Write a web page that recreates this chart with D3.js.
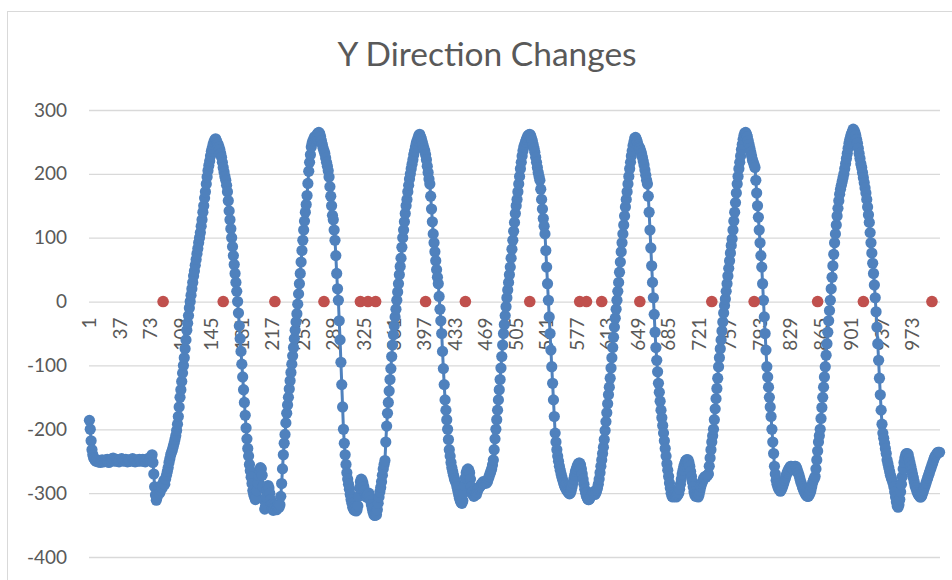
<!DOCTYPE html>
<html>
<head>
<meta charset="utf-8">
<script src="https://cdn.jsdelivr.net/npm/d3@7"></script>
<style>
    body { margin: 0; background: #fff; }
    svg { display: block; }
    text { font-family: Lato, "Open Sans", sans-serif; }
</style>
</head>
<body>
<svg id="chart" width="952" height="580"></svg>
<script>
// DATA (one value per sample)

const yChange = [
    -186, -200, -218, -232, -240, -245, -247, -249, -250, -248, -251, -249, -250, -252, -249, -248, -250, -251, -249, -250,
    -248, -247, -250, -252, -250, -249, -248, -246, -245, -248, -250, -249, -247, -248, -250, -251, -249, -248, -246, -247,
    -249, -250, -248, -247, -249, -251, -250, -248, -249, -250, -248, -246, -248, -250, -251, -249, -248, -250, -249, -247,
    -248, -250, -249, -247, -248, -250, -251, -249, -247, -246, -248, -247, -246, -243, -240, -252, -270, -290, -303, -311,
    -306, -298, -292, -300, -295, -288, -292, -285, -280, -286, -278, -272, -266, -260, -252, -246, -240, -236, -232, -227,
    -222, -216, -210, -202, -192, -180, -165, -150, -138, -125, -112, -100, -88, -74, -60, -45, -34, -22, -10, 0,
    10, 20, 30, 40, 48, 57, 66, 75, 83, 92, 100, 108, 118, 128, 140, 150, 162, 172, 184, 195,
    205, 213, 220, 228, 235, 240, 246, 250, 253, 255, 252, 248, 246, 242, 238, 232, 226, 218, 210, 203,
    196, 190, 182, 172, 158, 142, 128, 114, 100, 86, 72, 58, 44, 30, 16, 0, -18, -38, -58, -78,
    -98, -118, -138, -158, -178, -198, -215, -230, -242, -255, -265, -275, -285, -296, -302, -306, -310, -306, -296, -284,
    -272, -264, -260, -262, -272, -290, -310, -325, -320, -306, -294, -288, -292, -300, -310, -318, -324, -327, -324, -318,
    -322, -326, -322, -318, -322, -318, -305, -285, -262, -240, -222, -208, -190, -175, -162, -150, -137, -124, -111, -98,
    -85, -72, -58, -45, -32, -19, -4, 12, 28, 44, 62, 80, 96, 112, 126, 140, 152, 166, 185, 204,
    218, 230, 242, 248, 252, 255, 258, 256, 259, 262, 264, 265, 263, 258, 252, 246, 240, 236, 232, 225,
    218, 212, 205, 195, 180, 165, 150, 135, 128, 112, 96, 72, 44, 20, 2, -30, -60, -95, -130, -165,
    -200, -222, -240, -255, -268, -278, -286, -294, -302, -310, -316, -322, -325, -327, -324, -328, -326, -320, -305, -292,
    -282, -278, -280, -284, -290, -296, -302, -306, -306, -302, -300, -306, -312, -318, -324, -330, -334, -335, -332, -334,
    -326, -316, -306, -298, -291, -282, -272, -262, -255, -249, -220, -195, -175, -158, -140, -122, -105, -86, -68, -52,
    -38, -24, -12, 2, 15, 28, 42, 55, 68, 85, 100, 112, 125, 138, 150, 160, 172, 182, 192, 200,
    208, 215, 222, 230, 236, 242, 248, 252, 256, 260, 262, 258, 255, 250, 245, 240, 236, 230, 222, 212,
    202, 192, 184, 165, 145, 125, 106, 92, 78, 64, 50, 38, 28, 8, -12, -30, -50, -78, -105, -130,
    -154, -170, -185, -200, -216, -232, -242, -252, -260, -266, -272, -277, -281, -284, -290, -296, -302, -308, -312, -315,
    -316, -312, -300, -288, -276, -268, -264, -262, -264, -268, -278, -290, -298, -303, -305, -303, -300, -302, -298, -294,
    -292, -290, -288, -286, -284, -282, -285, -282, -284, -284, -282, -278, -274, -270, -266, -262, -256, -248, -232, -215,
    -200, -185, -170, -154, -138, -122, -104, -86, -68, -50, -36, -22, -8, 6, 18, 30, 42, 54, 68, 82,
    96, 110, 124, 138, 150, 160, 172, 184, 196, 208, 218, 228, 236, 242, 246, 250, 254, 257, 260, 261,
    262, 260, 256, 252, 246, 240, 234, 226, 218, 210, 202, 196, 190, 176, 160, 145, 130, 118, 106, 80,
    54, 28, 2, -24, -50, -76, -102, -128, -154, -180, -206, -220, -232, -242, -250, -258, -264, -270, -275, -280,
    -284, -288, -291, -294, -296, -298, -300, -301, -300, -296, -290, -284, -278, -272, -266, -262, -258, -255, -253, -253,
    -256, -262, -270, -278, -286, -294, -300, -305, -308, -310, -310, -308, -305, -302, -300, -298, -300, -302, -300, -296,
    -292, -286, -278, -268, -258, -248, -238, -228, -216, -202, -188, -174, -160, -146, -134, -120, -104, -88, -72, -56,
    -40, -26, -12, 2, 16, 30, 46, 62, 78, 92, 106, 120, 134, 148, 160, 172, 184, 196, 208, 218,
    228, 236, 244, 250, 256, 257, 254, 250, 245, 242, 240, 236, 232, 226, 220, 214, 206, 198, 190, 184,
    165, 140, 112, 84, 56, 30, 6, -20, -48, -72, -92, -110, -128, -142, -156, -170, -182, -194, -206, -218,
    -230, -242, -254, -264, -274, -284, -292, -300, -305, -306, -304, -302, -305, -306, -304, -302, -300, -294, -286, -278,
    -270, -264, -258, -254, -250, -248, -248, -248, -252, -258, -266, -274, -282, -290, -298, -303, -305, -304, -305, -306,
    -302, -296, -290, -285, -282, -278, -276, -274, -275, -273, -272, -270, -258, -245, -232, -220, -210, -200, -185, -168,
    -152, -136, -120, -102, -88, -74, -60, -46, -32, -18, -6, 4, 16, 28, 40, 52, 64, 76, 88, 98,
    112, 126, 140, 155, 170, 184, 196, 208, 218, 228, 238, 246, 254, 260, 264, 265, 262, 258, 252, 246,
    240, 234, 228, 222, 218, 214, 210, 190, 170, 150, 132, 112, 92, 72, 54, 28, 2, -24, -50, -76,
    -102, -118, -134, -150, -165, -180, -200, -220, -238, -258, -270, -280, -286, -290, -293, -295, -297, -295, -292, -288,
    -284, -280, -276, -272, -268, -265, -262, -260, -258, -258, -260, -262, -264, -258, -258, -260, -264, -268, -272, -277,
    -282, -286, -290, -294, -297, -300, -302, -304, -305, -305, -303, -300, -296, -290, -284, -280, -277, -274, -262, -248,
    -234, -220, -210, -200, -183, -166, -150, -134, -118, -102, -84, -66, -48, -30, -14, 2, 20, 38, 56, 74,
    92, 106, 120, 134, 146, 158, 168, 176, 182, 188, 194, 200, 208, 216, 224, 232, 240, 248, 254, 259,
    263, 266, 270, 268, 265, 260, 254, 248, 240, 232, 224, 216, 210, 202, 194, 186, 178, 170, 160, 148,
    136, 124, 108, 92, 76, 60, 44, 26, 6, -16, -40, -66, -92, -120, -146, -170, -192, -206, -214, -222,
    -230, -238, -248, -254, -260, -266, -272, -276, -280, -284, -290, -298, -306, -314, -320, -322, -318, -310, -298, -286,
    -274, -262, -252, -245, -240, -238, -238, -240, -246, -252, -258, -264, -270, -276, -282, -288, -292, -296, -300, -302,
    -304, -306, -306, -304, -300, -296, -292, -288, -284, -280, -276, -272, -268, -264, -260, -256, -252, -248, -244, -242,
    -240, -238, -236, -236, -236
];

// samples where the direction flips (plotted at 0)
const changeIdx = [88, 159, 220, 278, 321, 330, 339, 398, 445, 521, 580, 588, 606, 651, 736, 786, 861, 915, 996];

const xTickLabels = [1, 37, 73, 109, 145, 181, 217, 253, 289, 325, 361, 397, 433, 469,
    505, 541, 577, 613, 649, 685, 721, 757, 793, 829, 865, 901, 937, 973];
const yTickValues = [300, 200, 100, 0, -100, -200, -300, -400];


// SVG, SCALES AND AXES

const svg = d3.select('#chart');
const plot = { left: 89, right: 940, top: 110, bottom: 557 };
const gridColor = '#d9d9d9';
const textColor = '#595959';

// chart frame (runs off the right/bottom of the picture)
svg.append('rect')
    .attr('x', 7.5).attr('y', 11.5)
    .attr('width', 1000).attr('height', 640)
    .attr('fill', '#fff')
    .attr('stroke', gridColor);

const categories = yChange.map((d, i) => i + 1);

const x = d3.scaleBand()
    .domain(categories)
    .range([plot.left, plot.right]);
const cx = i => x(i) + x.bandwidth() / 2;

const y = d3.scaleLinear()
    .domain([-400, 300])
    .range([plot.bottom, plot.top]);

// value axis + gridlines (plain hyphen for negatives, like excel)
const yAxis = svg.append('g')
    .attr('transform', `translate(${plot.left},0)`)
    .call(d3.axisLeft(y)
        .tickValues(yTickValues)
        .tickFormat(d => String(d))
        .tickSize(-(plot.right - plot.left))
        .tickPadding(22));
yAxis.select('.domain').remove();
yAxis.selectAll('line').attr('stroke', gridColor).attr('stroke-width', 1.3);
yAxis.selectAll('text')
    .attr('fill', textColor)
    .attr('font-size', 19)
    .style('font-family', 'Lato, "Open Sans", sans-serif');

// category axis sits on the zero line, labels rotated
const xAxis = svg.append('g')
    .attr('transform', `translate(0,${y(0)})`)
    .call(d3.axisBottom(x).tickValues(xTickLabels).tickSize(0));
xAxis.select('.domain').remove();
xAxis.selectAll('text')
    .attr('transform', 'rotate(-90)')
    .attr('text-anchor', 'end')
    .attr('x', -16)
    .attr('y', 0)
    .attr('dy', '0.35em')
    .attr('fill', textColor)
    .attr('font-size', 19)
    .style('font-family', 'Lato, "Open Sans", sans-serif');


// SERIES

const line = d3.line()
    .x((d, i) => cx(i + 1))
    .y(d => y(d));

svg.append('path')
    .datum(yChange)
    .attr('d', line)
    .attr('fill', 'none')
    .attr('stroke', '#4f81bd')
    .attr('stroke-width', 3);

svg.append('g')
    .selectAll('circle')
    .data(yChange)
    .join('circle')
    .attr('cx', (d, i) => cx(i + 1))
    .attr('cy', d => y(d))
    .attr('r', 5.6)
    .attr('fill', '#4f81bd');

svg.append('g')
    .selectAll('circle')
    .data(changeIdx)
    .join('circle')
    .attr('cx', d => cx(d))
    .attr('cy', y(0))
    .attr('r', 5.8)
    .attr('fill', '#c0504d');

// title
svg.append('text')
    .attr('x', 487)
    .attr('y', 66)
    .attr('text-anchor', 'middle')
    .attr('fill', textColor)
    .attr('font-size', 33.5)
    .text('Y Direction Changes');
</script>
</body>
</html>
